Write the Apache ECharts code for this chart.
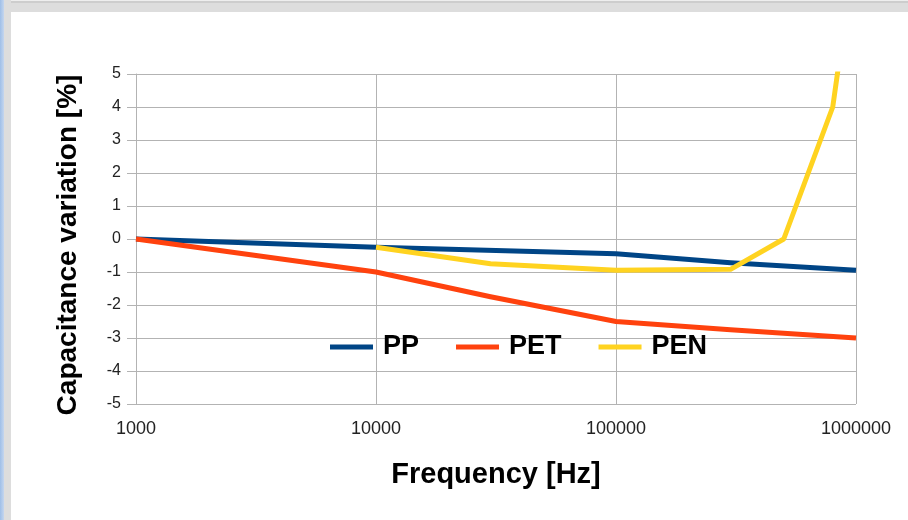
<!DOCTYPE html>
<html>
<head>
<meta charset="utf-8">
<script src="https://cdn.jsdelivr.net/npm/echarts@6/dist/echarts.min.js"></script>
<style>
html,body{margin:0;padding:0;width:908px;height:520px;overflow:hidden;background:#fff;}
#topband{position:absolute;left:0;top:0;width:908px;height:12px;background:#dddddd;border-top:1px solid #eeeeee;box-sizing:border-box;}
#topline{position:absolute;left:0;top:1px;width:908px;height:2px;background:#cdcdcd;}
#leftgray{position:absolute;left:0;top:0;width:11px;height:520px;background:#dddddd;}
#leftblue{position:absolute;left:0;top:0;width:4px;height:520px;background:linear-gradient(to right,#9fbfe8,#c5d6ee);}
#chart{position:absolute;left:0;top:0;width:908px;height:520px;}
</style>
</head>
<body>
<div id="topband"></div>
<div id="topline"></div>
<div id="leftgray"></div>
<div id="leftblue"></div>
<div id="chart"></div>
<script>
// Data (frequency in Hz, capacitance variation in %)
const seriesNames = ['PP', 'PET', 'PEN'];
const freqPP  = [1000, 10000, 100000, 300000, 1000000];
const valPP   = [0, -0.25, -0.45, -0.72, -0.95];
const freqPET = [1000, 10000, 30000, 100000, 300000, 1000000];
const valPET  = [0, -1.0, -1.75, -2.5, -2.75, -3.0];
const freqPEN = [10000, 30000, 100000, 300000, 500000, 800000, 1000000];
const valPEN  = [-0.25, -0.75, -0.95, -0.92, 0, 4.0, 9.0];
const xTickLabels = ['1000', '10000', '100000', '1000000'];
const yTickLabels = ['-5', '-4', '-3', '-2', '-1', '0', '1', '2', '3', '4', '5'];
const colors = ['#004586', '#ff420e', '#ffd320'];

function pairs(xs, ys) { return xs.map((x, i) => [x, ys[i]]); }
const seriesData = [pairs(freqPP, valPP), pairs(freqPET, valPET), pairs(freqPEN, valPEN)];

const sans = '"Liberation Sans", Arial, sans-serif';

const chart = echarts.init(document.getElementById('chart'), null, {renderer: 'canvas'});
chart.setOption({
  animation: false,
  backgroundColor: 'transparent',
  color: colors,
  grid: {left: 136, right: 52, top: 74, bottom: 116, containLabel: false},
  legend: {
    left: 330, top: 333, padding: 0,
    itemWidth: 43, itemHeight: 5, itemGap: 37,
    icon: 'rect',
    data: seriesNames,
    textStyle: {fontFamily: sans, fontWeight: 'bold', fontSize: 27, color: '#000', padding: [0, 0, 0, 5], lineHeight: 28}
  },
  xAxis: {
    type: 'log', logBase: 10, min: 1000, max: 1000000,
    name: 'Frequency [Hz]', nameLocation: 'middle', nameGap: 56,
    nameTextStyle: {fontFamily: sans, fontWeight: 'bold', fontSize: 29, color: '#000', lineHeight: 29},
    axisLine: {show: true, lineStyle: {color: '#b3b3b3', width: 1}},
    axisTick: {show: true, length: 6, lineStyle: {color: '#b3b3b3'}},
    minorTick: {show: false},
    splitLine: {show: true, lineStyle: {color: '#b3b3b3', width: 1}},
    axisLabel: {
      margin: 16, fontFamily: sans, fontSize: 18, color: '#222',
      formatter: function (v) {
        const e = Math.round(Math.log10(v)) - 3;
        return xTickLabels[e] !== undefined ? xTickLabels[e] : '';
      }
    }
  },
  yAxis: {
    type: 'value', min: -5, max: 5, interval: 1,
    name: 'Capacitance variation [%]', nameLocation: 'middle', nameGap: 54, nameRotate: 90,
    nameTextStyle: {fontFamily: sans, fontWeight: 'bold', fontSize: 28, color: '#000', lineHeight: 28, padding: [0, 12, 0, 0]},
    axisLine: {show: true, lineStyle: {color: '#b3b3b3', width: 1}},
    axisTick: {show: true, length: 9, lineStyle: {color: '#b3b3b3'}},
    splitLine: {show: true, lineStyle: {color: '#b3b3b3', width: 1}},
    axisLabel: {
      margin: 15, fontFamily: sans, fontSize: 16, color: '#222',
      formatter: function (v) {
        const i = Math.round(v) + 5;
        return yTickLabels[i];
      }
    }
  },
  series: seriesNames.map((n, i) => ({
    name: n, type: 'line', data: seriesData[i],
    showSymbol: false, symbol: 'none', clip: true,
    lineStyle: {width: 5, color: colors[i], cap: 'butt', join: 'round'},
    itemStyle: {color: colors[i]}
  }))
});
</script>
</body>
</html>
